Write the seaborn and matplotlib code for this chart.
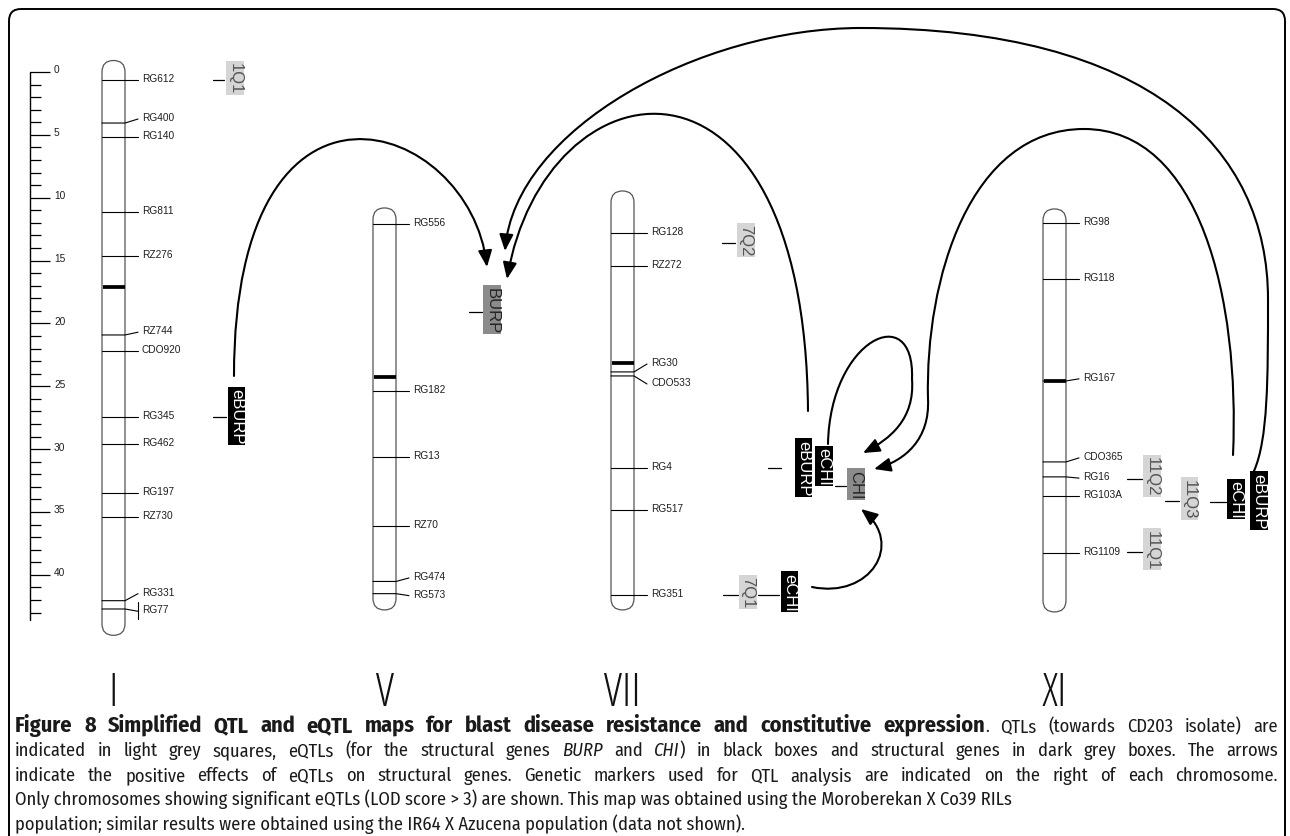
import matplotlib
matplotlib.use("Agg")
import numpy as np
import pandas as pd
import matplotlib.pyplot as plt
import seaborn as sns
from matplotlib.patches import FancyBboxPatch, FancyArrowPatch
from matplotlib.path import Path

# ------------------------------------------------------------------ data
# genetic ruler (cM)
RULER_TICKS = list(range(0, 44))
RULER_LABELS = [0, 5, 10, 15, 20, 25, 30, 35, 40]
RULER_END = 43.6

# chromosomes: start on the common cM scale, length in cM
CHROM_NAMES = ["I", "V", "VII", "XI"]
CHROM_START = [0.0, 11.73, 10.38, 11.81]
CHROM_LENGTH = [43.9, 30.15, 31.5, 30.23]
BANDS = [[17.1], [12.53], [12.77], [12.77]]

# markers (cM from chromosome start) and where their labels sit
MARKERS_I = ["RG612", "RG400", "RG140", "RG811", "RZ276", "RZ744", "CDO920",
             "RG345", "RG462", "RG197", "RZ730", "RG331", "RG77"]
POS_I = [0.64, 4.06, 5.15, 11.14, 14.64, 20.92, 22.17, 27.45, 29.6, 33.5, 35.4, 42.06, 42.72]
LABPOS_I = [0.64, 3.74, 5.15, 11.14, 14.64, 20.7, 22.17, 27.45, 29.6, 33.5, 35.4, 41.5, 42.9]

MARKERS_V = ["RG556", "RG182", "RG13", "RZ70", "RG474", "RG573"]
POS_V = [0.36, 13.65, 18.9, 24.4, 28.8, 29.77]
LABPOS_V = [0.36, 13.65, 18.9, 24.4, 28.52, 29.93]

MARKERS_VII = ["RG128", "RZ272", "RG30", "CDO533", "RG4", "RG517", "RG351"]
POS_VII = [2.43, 5.05, 13.48, 13.8, 21.12, 24.46, 31.22]
LABPOS_VII = [2.43, 5.05, 12.85, 14.44, 21.12, 24.46, 31.22]

MARKERS_XI = ["RG98", "RG118", "RG167", "CDO365", "RG16", "RG103A", "RG1109"]
POS_XI = [0.2, 4.65, 12.77, 19.21, 20.4, 21.92, 26.45]
LABPOS_XI = [0.2, 4.65, 12.6, 18.89, 20.5, 21.92, 26.45]

# QTL / eQTL / gene boxes
BOX_LABELS = ["1Q1", "eBURP", "BURP", "7Q2", "eBURP", "eCHI", "CHI", "7Q1", "eCHI",
              "11Q2", "11Q3", "eCHI", "eBURP", "11Q1"]
BOX_KIND = ["qtl", "eqtl", "gene", "qtl", "eqtl", "eqtl", "gene", "qtl", "eqtl",
            "qtl", "qtl", "eqtl", "eqtl", "qtl"]
BOX_CHROM = [0, 0, 1, 2, 2, 2, 2, 2, 2, 3, 3, 3, 3, 3]
BOX_POS = [0.48, 27.37, 7.2, 2.98, 21.08, 20.96, 22.39, 30.99, 30.95,
           20.33, 22.12, 22.16, 22.28, 26.17]

# connectors (chromosome, cM position)
CONN_CHROM = [0, 0, 1, 2, 2, 2, 2, 2, 3, 3, 3, 3]
CONN_POS = [0.64, 27.45, 7.36, 3.22, 21.12, 22.55, 31.22, 31.22, 20.56, 22.31, 22.39, 26.37]

CAPTION = [
    [("Figure 8 Simplified QTL and eQTL maps for blast disease resistance and constitutive expression", "bold"),
     (". QTLs (towards CD203 isolate) are", "normal")],
    [("indicated in light grey squares, eQTLs (for the structural genes ", "normal"), ("BURP", "italic"),
     (" and ", "normal"), ("CHI", "italic"),
     (") in black boxes and structural genes in dark grey boxes. The arrows", "normal")],
    [("indicate the positive effects of eQTLs on structural genes. Genetic markers used for QTL analysis "
      "are indicated on the right of each chromosome.", "normal")],
    [("Only chromosomes showing significant eQTLs (LOD score > 3) are shown. This map was obtained "
      "using the Moroberekan X Co39 RILs", "normal")],
    [("population; similar results were obtained using the IR64 X Azucena population (data not shown).", "normal")],
]
CAPTION_JUSTIFY = [True, True, True, False, False]

# ------------------------------------------------------------------ layout / style
W, H = 1290, 837
PX_PER_CM = 12.57
Y0_PX = 73
RULER_X = 30
CHROM_LEFT = [102, 373, 611, 1043]
CHROM_W = 23
BOX_X = [235, 236.5, 492, 746, 803.5, 824, 856, 748, 789.5, 1152, 1189.5, 1236, 1259, 1152]
CONN_X = [(213, 224), (213, 226), (469, 482), (722, 735), (768, 781), (835, 846), (723, 738),
          (758, 779), (1127, 1142), (1165, 1179), (1210, 1226), (1127, 1142)]
BOX_STYLE = {"qtl": ("#d5d5d5", "#555555"), "eqtl": ("#000000", "#ffffff"), "gene": ("#8b8b8b", "#252525")}

# curved arrows (eQTL -> structural gene), cubic Bezier control points in figure pixels
LINKS = [
    [(234, 377), (234, 40), (470, 120), (487, 268)],                       # eBURP I -> BURP
    [(808, 412), (805, 20), (545, 60), (507, 280)],                        # eBURP VII -> BURP
    [(1254, 472), (1268, 440), (1268, 380), (1268, 300),
     (1268, 150), (1150, 29), (861, 29),
     (700, 29), (515, 130), (505, 252)],                                   # eBURP XI -> BURP
    [(1233, 456), (1240, 300), (1200, 130), (1084, 130),
     (970, 130), (925, 280), (928, 400),
     (930, 440), (905, 462), (874, 470)],                                  # eCHI XI -> CHI
    [(828, 445), (830, 340), (915, 300), (912, 380),
     (915, 420), (890, 440), (863, 454)],                                  # eCHI VII -> CHI
    [(812, 588), (870, 600), (905, 545), (861, 510)],                      # eCHI VII(low) -> CHI
]

sns.set_theme(style="white")
plt.rcParams["font.family"] = ["Liberation Sans", "DejaVu Sans"]

fig = plt.figure(figsize=(W / 100, H / 100), dpi=100, facecolor="white")
ax = fig.add_axes([0, 0, 1, 1])
ax2 = fig.add_axes([0, 0, 1, 1], zorder=3)
ax2.patch.set_alpha(0)

# ------------------------------------------------------------------ ruler
ruler_df = pd.DataFrame({"x": [RULER_X, RULER_X], "cM": [0, RULER_END]})
sns.lineplot(data=ruler_df, x="x", y="cM", ax=ax, color="black", linewidth=1.0,
             estimator=None, sort=False, legend=False)
major = [t for t in RULER_TICKS if t in RULER_LABELS]
minor = [t for t in RULER_TICKS if t not in RULER_LABELS]
ax.hlines(major, RULER_X, RULER_X + 20, color="black", lw=0.9)
ax.hlines(minor, RULER_X, RULER_X + 11, color="black", lw=0.9)
for t in RULER_LABELS:
    ax.text(RULER_X + 24, t - 0.2, str(t), fontsize=7.3, ha="left", va="center", color="#1e1e1e")

# ------------------------------------------------------------------ chromosomes
marker_sets = [(MARKERS_I, POS_I, LABPOS_I), (MARKERS_V, POS_V, LABPOS_V),
               (MARKERS_VII, POS_VII, LABPOS_VII), (MARKERS_XI, POS_XI, LABPOS_XI)]
r_cm = (CHROM_W / 2) / PX_PER_CM
for i, name in enumerate(CHROM_NAMES):
    x0 = CHROM_LEFT[i]
    x1 = x0 + CHROM_W
    s = CHROM_START[i]
    L = CHROM_LENGTH[i]
    ax.add_patch(FancyBboxPatch((x0, s - r_cm), CHROM_W, L + 2 * r_cm,
                                boxstyle=f"round,pad=0,rounding_size={CHROM_W / 2}",
                                mutation_aspect=1 / PX_PER_CM, fc="white", ec="#555555",
                                lw=0.9, zorder=2))
    for b in BANDS[i]:
        ax.plot([x0 + 0.5, x1 - 0.5], [s + b, s + b], color="black", lw=2.7,
                solid_capstyle="butt", zorder=3)
    names, pos, lpos = marker_sets[i]
    for nm, p, lp in zip(names, pos, lpos):
        ax.plot([x0, x1, x1 + 13], [s + p, s + p, s + lp], color="black", lw=0.8, zorder=3)
        ax.text(x1 + 17, s + lp - 0.17, nm, fontsize=7.3, ha="left", va="center", color="#1e1e1e")
        if nm == "RG77":
            ax.plot([x1 + 13, x1 + 13], [s + p - 0.55, s + p + 0.8], color="black", lw=0.8)
    ax2.text(x0 + CHROM_W / 2, 706, name, fontsize=33, ha="center", va="baseline",
             family="Open Sans", fontweight=300, fontstretch="condensed", color="#111111")

# ------------------------------------------------------------------ connectors and boxes
for ci, p, (xa, xb) in zip(CONN_CHROM, CONN_POS, CONN_X):
    y = CHROM_START[ci] + p
    ax.plot([xa, xb], [y, y], color="black", lw=0.9, zorder=3)

for lab, kind, ci, p, xc in zip(BOX_LABELS, BOX_KIND, BOX_CHROM, BOX_POS, BOX_X):
    fc, tc = BOX_STYLE[kind]
    ax.text(xc, CHROM_START[ci] + p, lab, rotation=-90, ha="center", va="center",
            fontsize=12, color=tc, family="Liberation Sans",
            bbox=dict(boxstyle="square,pad=0.08", fc=fc, ec="none"), zorder=5)

ax.set_xlim(0, W)
ax.set_ylim((H - Y0_PX) / PX_PER_CM, -Y0_PX / PX_PER_CM)
ax.axis("off")

# ------------------------------------------------------------------ arrows, frame
ax2.set_xlim(0, W)
ax2.set_ylim(H, 0)
ax2.axis("off")

for pts in LINKS:
    codes = [Path.MOVETO] + [Path.CURVE4] * (len(pts) - 1)
    arr = FancyArrowPatch(path=Path(pts, codes), arrowstyle="-|>,head_length=1.0,head_width=0.42",
                          mutation_scale=10, lw=1.5, color="black", transform=ax2.transData, zorder=4)
    ax2.add_patch(arr)

ax2.add_patch(FancyBboxPatch((9, 10), 1276, 880, boxstyle="round,pad=0,rounding_size=12",
                             fc="none", ec="black", lw=1.4, transform=ax2.transData,
                             clip_on=False))

# ------------------------------------------------------------------ caption
CAP_FAMILY = "Fira Sans Condensed"
STYLE = {"normal": {}, "bold": {"fontweight": "bold"}, "italic": {"fontstyle": "italic"}}
CAP_LEFT, CAP_RIGHT = 15, 1278
CAP_BASE = [732, 756.5, 781, 805.5, 830]
BOLD_END = 913
renderer = fig.canvas.get_renderer()
FS = {"normal": 11.0, "italic": 11.0, "bold": 11.0}


def text_width(s, style, fs):
    t = ax2.text(0, 0, s, fontsize=fs, family=CAP_FAMILY, **STYLE[style])
    w = t.get_window_extent(renderer=renderer).width
    t.remove()
    return w


def words_of(segs):
    words = [[]]
    for text, style in segs:
        parts = text.split(" ")
        for k, part in enumerate(parts):
            if k > 0:
                words.append([])
            if part:
                words[-1].append((part, style))
    return [w for w in words if w]


def line_metrics(segs):
    words = words_of(segs)
    widths = [sum(text_width(t, st, FS[st]) for t, st in w) for w in words]
    space = text_width("n n", "normal", FS["normal"]) - text_width("nn", "normal", FS["normal"])
    return words, widths, space


def natural_width(segs):
    _, ws, sp = line_metrics(segs)
    return sum(ws) + sp * (len(ws) - 1)


base_fs = 11.0
factor = 997 / natural_width(CAPTION[3])
for segs in CAPTION[1:3]:
    factor = min(factor, (CAP_RIGHT - CAP_LEFT) / natural_width(segs))
cap_fs = float(np.clip(base_fs * factor, 9.0, 16.0))
FS = {"normal": cap_fs, "italic": cap_fs, "bold": cap_fs}
bold_nat = natural_width([CAPTION[0][0]])
FS["bold"] = cap_fs * float(np.clip((BOLD_END - CAP_LEFT) / bold_nat, 0.85, 1.2))

for segs, just, yb in zip(CAPTION, CAPTION_JUSTIFY, CAP_BASE):
    if not just:
        # plain left-aligned line: one text per styled run
        x = CAP_LEFT
        for t, st in segs:
            ax2.text(x, yb, t, fontsize=FS[st], family=CAP_FAMILY, ha="left", va="baseline",
                     color="#1a1a1a", **STYLE[st])
            x += text_width(t, st, FS[st])
        continue
    words, widths, space = line_metrics(segs)
    gap = (CAP_RIGHT - CAP_LEFT - sum(widths)) / (len(words) - 1)
    x = CAP_LEFT
    for w, ww in zip(words, widths):
        xr = x
        for t, st in w:
            ax2.text(xr, yb, t, fontsize=FS[st], family=CAP_FAMILY, ha="left", va="baseline",
                     color="#1a1a1a", **STYLE[st])
            xr += text_width(t, st, FS[st])
        x += ww + gap

fig.savefig("out.png", dpi=100, facecolor="white")
